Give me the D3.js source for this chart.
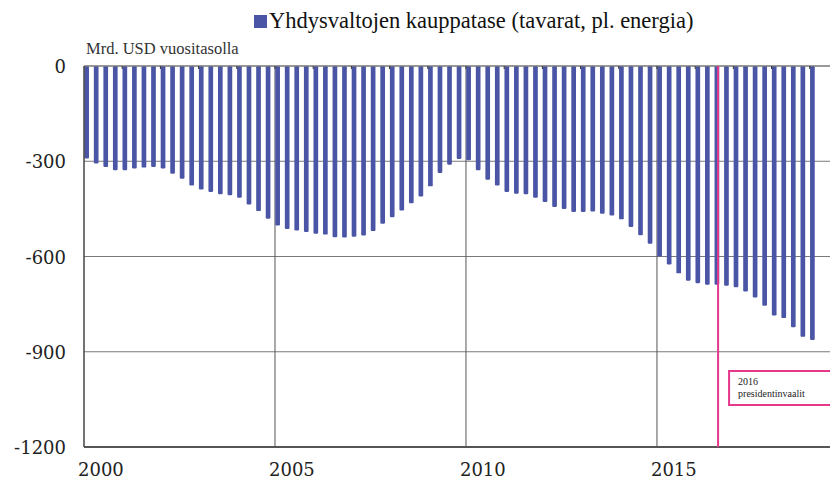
<!DOCTYPE html>
<html>
<head>
<meta charset="utf-8">
<script src="https://cdn.jsdelivr.net/npm/d3@7"></script>
<style>
  body { margin: 0; background: #fff; }
  svg { display: block; }
</style>
</head>
<body>
<div id="chart"></div>
<script>
    // chart size
    let width = 830;
    let height = 479;

    // data: quarterly US goods trade balance excl. energy, bn USD annualised
    let title = "Yhdysvaltojen kauppatase (tavarat, pl. energia)";
    let unitLabel = "Mrd. USD vuositasolla";
    let firstYear = 2000;
    let quarterNames = ["Q1", "Q2", "Q3", "Q4"];
    let balance = [
        -291, -307, -318, -328,   // 2000
        -328, -323, -320, -318,   // 2001
        -323, -339, -355, -376,   // 2002
        -389, -397, -404, -407,   // 2003
        -415, -436, -457, -481,   // 2004
        -502, -513, -518, -523,   // 2005
        -528, -531, -539, -540,   // 2006
        -538, -534, -520, -497,   // 2007
        -476, -455, -432, -411,   // 2008
        -379, -337, -311, -293,   // 2009
        -297, -328, -358, -376,   // 2010
        -397, -402, -404, -415,   // 2011
        -428, -444, -450, -460,   // 2012
        -460, -458, -465, -471,   // 2013
        -483, -507, -533, -560,   // 2014
        -600, -625, -653, -676,   // 2015
        -684, -689, -689, -692,   // 2016
        -697, -710, -729, -755,   // 2017
        -786, -794, -823, -853,   // 2018
        -863                      // 2019
    ];
    let yTicks = [0, -300, -600, -900, -1200];
    let xTicks = [2000, 2005, 2010, 2015];
    let electionTime = 2016.6;
    let electionText = ["2016", "presidentinvaalit"];

    let periods = balance.map((v, i) => ({
        label: (firstYear + Math.floor(i / 4)) + quarterNames[i % 4],
        t: firstYear + i / 4,
        value: v
    }));

    let margin = {top: 66, right: 0, bottom: 32, left: 84};
    let barColor = "#4a55a5";
    let pink = "#e5378b";

    let svg = d3.select("#chart")
        .append("svg")
        .attr("width", width)
        .attr("height", height);

    let x = d3.scaleLinear()
        .domain([2000, 2019.53])
        .range([margin.left, width - margin.right]);

    let y = d3.scaleLinear()
        .domain([-1200, 0])
        .range([height - margin.bottom, margin.top]);

    let quarterW = x(2000.25) - x(2000);
    let barW = quarterW * 0.49;

    // horizontal grid
    svg.append("g")
        .selectAll("line")
        .data(yTicks.filter(d => d != 0 && d != -1200))
        .join("line")
        .attr("x1", x.range()[0])
        .attr("x2", x.range()[1])
        .attr("y1", d => y(d))
        .attr("y2", d => y(d))
        .attr("stroke", "#7a7a7a")
        .attr("stroke-width", 1);

    // vertical grid
    svg.append("g")
        .selectAll("line")
        .data(xTicks.filter(d => d != 2000))
        .join("line")
        .attr("x1", d => x(d))
        .attr("x2", d => x(d))
        .attr("y1", y(0))
        .attr("y2", y(-1200))
        .attr("stroke", "#555")
        .attr("stroke-width", 1);

    // bars
    svg.append("g")
        .selectAll("rect")
        .data(periods)
        .join("rect")
        .attr("x", d => x(d.t) + 0.3)
        .attr("y", y(0))
        .attr("width", barW)
        .attr("height", d => y(d.value) - y(0))
        .attr("rx", 1.2)
        .style("fill", barColor);

    // zero line with small yearly ticks
    svg.append("line")
        .attr("x1", x.range()[0])
        .attr("x2", x.range()[1])
        .attr("y1", y(0))
        .attr("y2", y(0))
        .attr("stroke", "#777")
        .attr("stroke-width", 1.5);

    svg.append("g")
        .selectAll("line")
        .data(d3.range(2001, 2020))
        .join("line")
        .attr("x1", d => x(d))
        .attr("x2", d => x(d))
        .attr("y1", y(0))
        .attr("y2", y(0) + 3)
        .attr("stroke", "#333")
        .attr("stroke-width", 1);

    // axes lines
    svg.append("line")
        .attr("x1", x.range()[0])
        .attr("x2", x.range()[1])
        .attr("y1", y(-1200))
        .attr("y2", y(-1200))
        .attr("stroke", "#555")
        .attr("stroke-width", 2);

    svg.append("line")
        .attr("x1", x(2000))
        .attr("x2", x(2000))
        .attr("y1", y(0))
        .attr("y2", y(-1200))
        .attr("stroke", "#444")
        .attr("stroke-width", 1.5);

    // y labels
    svg.append("g")
        .selectAll("text")
        .data(yTicks)
        .join("text")
        .attr("x", 66)
        .attr("y", d => y(d) + 7)
        .attr("text-anchor", "end")
        .style("font-family", "'DejaVu Serif', serif")
        .style("font-size", "18px")
        .style("fill", "#222")
        .text(d => d);

    // x labels
    svg.append("g")
        .selectAll("text")
        .data(xTicks)
        .join("text")
        .attr("x", d => x(d) - 6)
        .attr("y", 476)
        .attr("text-anchor", "start")
        .style("font-family", "'DejaVu Serif', serif")
        .style("font-size", "18px")
        .style("fill", "#222")
        .text(d => d);

    // election marker
    svg.append("line")
        .attr("x1", x(electionTime))
        .attr("x2", x(electionTime))
        .attr("y1", y(0))
        .attr("y2", y(-1200))
        .attr("stroke", pink)
        .attr("stroke-width", 2);

    svg.append("rect")
        .attr("x", x(electionTime) + 11)
        .attr("y", 371)
        .attr("width", 110)
        .attr("height", 34)
        .attr("fill", "#fff")
        .attr("stroke", pink)
        .attr("stroke-width", 2);

    svg.append("g")
        .selectAll("text")
        .data(electionText)
        .join("text")
        .attr("x", x(electionTime) + 20)
        .attr("y", (d, i) => 385 + i * 12)
        .style("font-family", "'Liberation Serif', serif")
        .style("font-size", "10px")
        .style("fill", "#222")
        .text(d => d);

    // legend / title
    svg.append("rect")
        .attr("x", 254)
        .attr("y", 15)
        .attr("width", 13)
        .attr("height", 13)
        .style("fill", barColor);

    svg.append("text")
        .attr("x", 269)
        .attr("y", 28)
        .style("font-family", "'Liberation Serif', serif")
        .style("font-size", "22.5px")
        .style("fill", "#111")
        .text(title);

    svg.append("text")
        .attr("x", 86)
        .attr("y", 54)
        .style("font-family", "'Liberation Serif', serif")
        .style("font-size", "16.5px")
        .style("fill", "#333")
        .text(unitLabel);
</script>
</body>
</html>
